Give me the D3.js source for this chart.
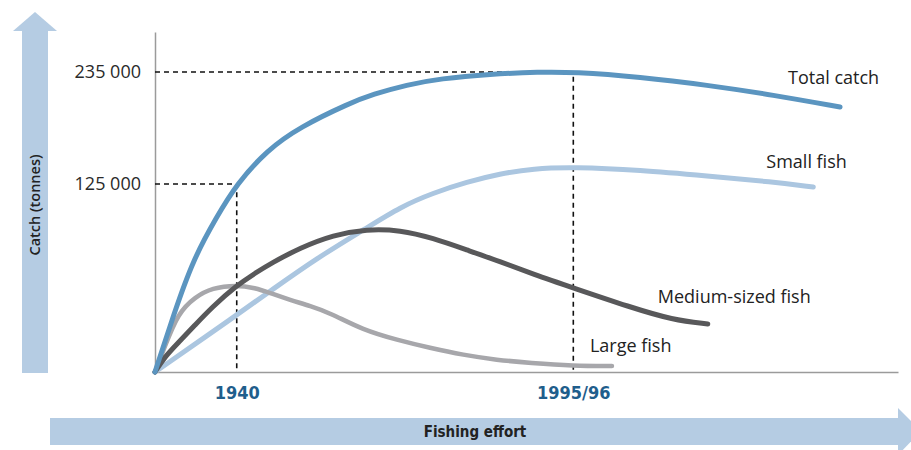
<!DOCTYPE html>
<html>
<head>
<meta charset="utf-8">
<script src="https://cdn.jsdelivr.net/npm/d3@7"></script>
<style>
  body { margin: 0; background: #fff; }
  svg { display: block; }
  .series { fill: none; stroke-linecap: round; stroke-linejoin: round; }
  .guide { fill: none; stroke: #111; stroke-width: 1.6; stroke-dasharray: 5 4; }
  .cond { font-family: 'DejaVu Sans Condensed', 'DejaVu Sans', sans-serif; font-stretch: condensed; font-weight: bold; }
</style>
</head>
<body>
<script>
// fishing effort (index 0-100) vs catch (tonnes)
const totalCatch = [[0,0],[2.5,38000],[5.1,74500],[8.3,103100],[11.0,125000],[15.1,158400],[19.5,181000],
  [26.2,204500],[29.3,213000],[33.9,222500],[38.4,228500],[45.1,233000],[51.8,235000],
  [56.3,235000],[65.3,230100],[74.3,222200],[83.2,212400],[92.2,200600]];
const smallFish = [[0,0],[11.0,37900],[15.7,54500],[21.8,75800],[28.5,95800],[33.0,109700],
  [37.4,119000],[42.0,127000],[46.4,135000],[50.9,140200],[56.3,141700],[65.3,138700],
  [74.3,132900],[83.2,127000],[88.6,123000]];
const mediumFish = [[0,0],[1.3,10000],[3.1,19300],[5.4,31300],[7.7,43200],[10.9,57200],[13.5,65800],
  [15.7,72500],[19.5,82500],[24.0,91100],[28.5,95100],[33.0,94400],[37.4,89100],[42.0,81100],
  [46.4,73500],[50.9,65000],[56.3,55900],[63.9,43200],[69.7,34600],[74.4,31900]];
const largeFish = [[0,0],[1.3,16600],[3.1,39200],[5.4,49900],[7.7,55900],[10.9,57900],[13.5,55900],
  [15.5,52500],[18.2,47900],[20.9,43900],[23.6,39200],[28.0,27900],[32.6,21300],[37.0,16000],
  [41.5,11300],[46.0,8000],[50.5,6000],[56.3,4000],[61.5,4000]];

const seriesNames = ["Total catch", "Small fish", "Medium-sized fish", "Large fish"];
const seriesData = [totalCatch, smallFish, mediumFish, largeFish];
const seriesColors = ["#5b95c0", "#abc6e0", "#58585a", "#a7a7ab"];

const yTicks = [125000, 235000];
const yTickLabels = ["125 000", "235 000"];
const xTicks = [11.0, 56.3];
const xTickLabels = ["1940", "1995/96"];

const width = 911;
const height = 450;
const arrowColor = "#b5cce3";

const svg = d3.select("body").append("svg").attr("width", width).attr("height", height);

// the figure is schematic: y is not proportional from zero, so use a polylinear scale
const x = d3.scaleLinear().domain([0, 100]).range([155, 898]);
const y = d3.scaleLinear().domain([0, 125000, 235000, 274300]).range([372, 184, 72, 32]);

/** big arrows for the axis titles */
svg.append("rect").attr("x", 22).attr("y", 31).attr("width", 26).attr("height", 342).attr("fill", arrowColor);
svg.append("path").attr("d", "M13,31 L35,12 L57,31 Z").attr("fill", arrowColor);
svg.append("text")
  .attr("transform", "translate(40,205) rotate(-90)")
  .attr("text-anchor", "middle")
  .style("font", "600 14.5px 'Open Sans'")
  .style("fill", "#222")
  .text("Catch (tonnes)");

svg.append("rect").attr("x", 50).attr("y", 418).attr("width", 849).attr("height", 27).attr("fill", arrowColor);
svg.append("path").attr("d", "M898,408 L921,431 L898,455 Z").attr("fill", arrowColor);
svg.append("text")
  .attr("class", "cond")
  .attr("x", 475).attr("y", 437)
  .attr("text-anchor", "middle")
  .style("font-size", "15px")
  .style("fill", "#222")
  .text("Fishing effort");

/** axes */
const axisY = d3.axisLeft(y).tickValues(yTicks).tickFormat((d, i) => yTickLabels[i]).tickSize(0).tickPadding(14);
const axisX = d3.axisBottom(x).tickValues(xTicks).tickFormat((d, i) => xTickLabels[i]).tickSize(0).tickPadding(14);

const gy = svg.append("g").attr("transform", "translate(" + x(0) + ",0)").call(axisY);
gy.select(".domain").attr("stroke", "#9b9b9b").attr("stroke-width", 1.5);
gy.selectAll("text").style("font", "18px 'Open Sans'").style("fill", "#2a2a2a");

const gx = svg.append("g").attr("transform", "translate(0," + y(0) + ")").call(axisX);
gx.select(".domain").attr("stroke", "#9b9b9b").attr("stroke-width", 1.5);
gx.attr("font-family", null).attr("font-size", null);
gx.selectAll("text").attr("class", "cond").style("font-size", "18px").style("fill", "#1f5e8c");

/** dashed guide lines */
const guides = [
  [[x(0), y(yTicks[1])], [x(xTicks[1]), y(yTicks[1])], [x(xTicks[1]), y(0)]],
  [[x(0), y(yTicks[0])], [x(xTicks[0]), y(yTicks[0])], [x(xTicks[0]), y(0)]]
];
svg.selectAll(".guide")
  .data(guides)
  .enter()
  .append("path")
  .attr("class", "guide")
  .attr("d", d3.line());

/** curves (basis spline smooths the hand-read points) */
const line = d3.line()
  .x(d => x(d[0]))
  .y(d => y(d[1]))
  .curve(d3.curveBasis);

// draw order: small, large, medium, total on top
const order = [1, 3, 2, 0];
svg.selectAll(".series")
  .data(order)
  .enter()
  .append("path")
  .attr("class", "series")
  .attr("stroke", i => seriesColors[i])
  .attr("stroke-width", i => i === 3 ? 4.5 : 5)
  .attr("d", i => line(seriesData[i]));

/** labels near the end of each curve */
const labelOffsets = [[-52, -23], [-47, -19], [-50, -21], [-22, -14]];
svg.selectAll(".label")
  .data(seriesNames)
  .enter()
  .append("text")
  .attr("class", "label")
  .attr("x", (d, i) => x(seriesData[i][seriesData[i].length - 1][0]) + labelOffsets[i][0])
  .attr("y", (d, i) => y(seriesData[i][seriesData[i].length - 1][1]) + labelOffsets[i][1])
  .style("font", "18px 'Open Sans'")
  .style("fill", "#222")
  .text(d => d);
</script>
</body>
</html>
